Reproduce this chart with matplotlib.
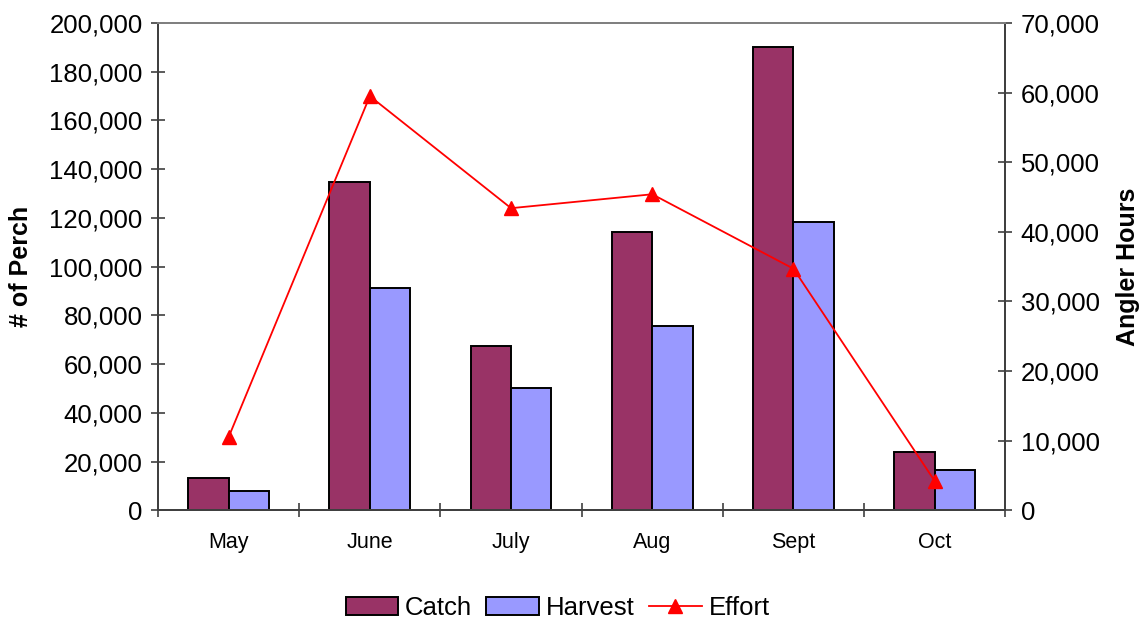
import numpy as np
import matplotlib
matplotlib.use('Agg')
import matplotlib.pyplot as plt
from matplotlib.ticker import FuncFormatter, FixedLocator
from matplotlib.patches import Patch
from matplotlib.lines import Line2D

plt.rcParams['font.family'] = ['Liberation Sans', 'DejaVu Sans']

# monthly perch numbers
months = ['May', 'June', 'July', 'Aug', 'Sept', 'Oct']
catch = [13100, 134900, 67400, 114400, 190300, 23800]
harvest = [8100, 91300, 50100, 75700, 118500, 16500]
effort = [10500, 59500, 43400, 45400, 34700, 4200]

catch_color = '#993366'
harvest_color = '#9999ff'
effort_color = '#ff0000'
axis_color = '#404040'

fig = plt.figure(figsize=(11.45, 6.23), dpi=100)
ax = fig.add_axes([0.138, 0.181, 0.740, 0.782])
ax2 = ax.twinx()

x = np.arange(len(months))
w = 0.286
ax.bar(x - w / 2, catch, w, color=catch_color, edgecolor='black', linewidth=1.4, zorder=2)
ax.bar(x + w / 2, harvest, w, color=harvest_color, edgecolor='black', linewidth=1.4, zorder=2)
ax2.plot(x, effort, color=effort_color, lw=1.3, marker='^', ms=10, zorder=3)

ax.set_xlim(-0.5, len(months) - 0.5)
ax.set_ylim(0, 200000)
ax2.set_ylim(0, 70000)
ax.set_yticks(np.arange(0, 200001, 20000))
ax2.set_yticks(np.arange(0, 70001, 10000))
fmt = FuncFormatter(lambda v, p: '{:,.0f}'.format(v))
ax.yaxis.set_major_formatter(fmt)
ax2.yaxis.set_major_formatter(fmt)

# month names centred, tick marks between the groups
ax.set_xticks(x)
ax.set_xticklabels(months, fontsize=15.5)
ax.tick_params(axis='x', length=0, pad=16)
ax.xaxis.set_minor_locator(FixedLocator(np.arange(-0.5, len(months), 1.0)))
ax.tick_params(axis='x', which='minor', direction='inout', length=10, width=1.2, color=axis_color)

ax.tick_params(axis='y', direction='inout', length=10, width=1.2, color=axis_color, labelsize=18.5, pad=6)
ax2.tick_params(axis='y', direction='inout', length=10, width=1.2, color=axis_color, labelsize=18.5, pad=6)

for a in (ax, ax2):
    for s in ('left', 'right', 'bottom'):
        a.spines[s].set_color(axis_color)
        a.spines[s].set_linewidth(1.4)
    a.spines['top'].set_color('#808080')
    a.spines['top'].set_linewidth(1.4)

ax.set_ylabel('# of Perch', fontsize=18, fontweight='bold', labelpad=12)
ax2.set_ylabel('Angler Hours', fontsize=18, fontweight='bold', labelpad=12)

handles = [
    Patch(facecolor=catch_color, edgecolor='black', linewidth=1.4),
    Patch(facecolor=harvest_color, edgecolor='black', linewidth=1.4),
    Line2D([0], [0], color=effort_color, lw=1.3, marker='^', ms=10),
]
fig.legend(handles, ['Catch', 'Harvest', 'Effort'], loc='center', bbox_to_anchor=(0.487, 0.024),
           ncol=3, frameon=False, fontsize=18.5, handlelength=2.05, handleheight=0.65,
           handletextpad=0.27, columnspacing=0.55)

fig.savefig('out.png', dpi=100)
